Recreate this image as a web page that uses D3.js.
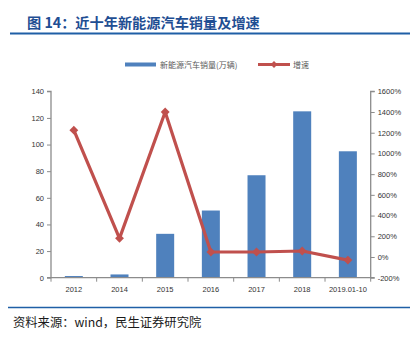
<!DOCTYPE html>
<html><head><meta charset="utf-8">
<script src="https://cdn.jsdelivr.net/npm/d3@7/dist/d3.min.js"></script>
<style>
html,body{margin:0;padding:0;background:#fff;}
svg{display:block;}
</style></head>
<body>
<script>
const categories = ["2012","2014","2015","2016","2017","2018","2019.01-10"];
const sales = [0.8, 2, 32.5, 50, 76.5, 124.5, 94.5];
const growth = [1225, 180, 1400, 48, 48, 58, -30];
const leftTicks = [0,20,40,60,80,100,120,140];
const rightTicks = [-200,0,200,400,600,800,1000,1200,1400,1600];
const titleText = "图 14：近十年新能源汽车销量及增速";
const sourceText = "资料来源：wind，民生证券研究院";
const legendLabels = ["新能源汽车销量(万辆)", "增速"];

const W = 420, H = 343;
const svg = d3.select("body").append("svg").attr("width", W).attr("height", H);
const axisFont = "'Liberation Sans', Arial, sans-serif";
const cjk = "'Noto Sans CJK SC', sans-serif";

// title
svg.append("text").attr("x", 27).attr("y", 28)
  .attr("font-family", cjk).attr("font-weight", "bold").attr("font-size", 14.2)
  .attr("fill", "#1F4E93").text(titleText);
svg.append("line").attr("x1", 10).attr("x2", 410).attr("y1", 33.5).attr("y2", 33.5)
  .attr("stroke", "#1F5FA6").attr("stroke-width", 2);

// scales
const x0 = 51, x1 = 370.7, yTop = 91.3, yBot = 277.7;
const xb = d3.scaleBand().domain(categories).range([x0, x1]);
const yL = d3.scaleLinear().domain([0, 140]).range([yBot, yTop]);
const yR = d3.scaleLinear().domain([-200, 1600]).range([yBot, yTop]);

// bars
svg.append("g").selectAll("rect").data(categories).join("rect")
  .attr("x", (d) => xb(d) + xb.bandwidth()/2 - 9)
  .attr("width", 18)
  .attr("y", (d,i) => yL(sales[i]) - 0.6)
  .attr("height", (d,i) => yBot - yL(sales[i]))
  .attr("fill", "#4F81BD");

// axes
const axisColor = "#8C8C8C";
const gl = svg.append("g").attr("transform", `translate(${x0},0)`)
  .call(d3.axisLeft(yL).tickValues(leftTicks).tickSize(4).tickPadding(3));
const gr = svg.append("g").attr("transform", `translate(${x1},0)`)
  .call(d3.axisRight(yR).tickValues(rightTicks).tickSize(4).tickPadding(3).tickFormat(d => d + "%"));
const gx = svg.append("g").attr("transform", `translate(0,${yBot})`)
  .call(d3.axisBottom(xb).tickSize(0).tickPadding(9));
svg.append("g").selectAll("line").data(d3.range(categories.length + 1)).join("line")
  .attr("x1", i => x0 + i * xb.step()).attr("x2", i => x0 + i * xb.step())
  .attr("y1", yBot).attr("y2", yBot + 4).attr("stroke", axisColor);

[gl, gr, gx].forEach(g => {
  g.selectAll("path").attr("stroke", axisColor).attr("stroke-width", 1.3);
  g.selectAll("line").attr("stroke", axisColor);
  g.selectAll("text").attr("font-family", axisFont).attr("font-size", 7.5).attr("fill", "#333");
});
gx.select(".domain").attr("d", `M${x0},0H${x1}`);
gl.select(".domain").attr("d", `M-4,${yTop}H0V${yBot}H-4`);
gr.select(".domain").attr("d", `M4,${yTop}H0V${yBot}H4`);

// line
const line = d3.line().x((d,i) => xb(categories[i]) + xb.bandwidth()/2).y(d => yR(d));
svg.append("path").datum(growth).attr("d", line)
  .attr("fill", "none").attr("stroke", "#C0504D").attr("stroke-width", 3.2).attr("stroke-linejoin", "round");
svg.append("g").selectAll("path").data(growth).join("path")
  .attr("transform", (d,i) => `translate(${xb(categories[i]) + xb.bandwidth()/2},${yR(d)})`)
  .attr("d", d3.symbol(d3.symbolDiamond2, 50)())
  .attr("fill", "#C0504D");

// legend
const ly = 64.5;
svg.append("rect").attr("x", 125).attr("y", ly - 2).attr("width", 31).attr("height", 4).attr("fill", "#4F81BD");
svg.append("text").attr("x", 160).attr("y", ly + 3).attr("font-family", cjk).attr("font-size", 8)
  .attr("fill", "#595959").text(legendLabels[0]);
svg.append("line").attr("x1", 258).attr("x2", 290).attr("y1", ly).attr("y2", ly)
  .attr("stroke", "#C0504D").attr("stroke-width", 3);
svg.append("path").attr("transform", `translate(274,${ly})`).attr("d", d3.symbol(d3.symbolDiamond2, 30)())
  .attr("fill", "#C0504D");
svg.append("text").attr("x", 293).attr("y", ly + 3).attr("font-family", cjk).attr("font-size", 8)
  .attr("fill", "#595959").text(legendLabels[1]);

// bottom rule + source
svg.append("line").attr("x1", 8).attr("x2", 410).attr("y1", 307.5).attr("y2", 307.5)
  .attr("stroke", "#1F5FA6").attr("stroke-width", 1.5);
svg.append("text").attr("x", 13).attr("y", 327).attr("font-family", cjk).attr("font-size", 12.3)
  .attr("fill", "#1a1a1a").text(sourceText);
</script>
</body></html>
